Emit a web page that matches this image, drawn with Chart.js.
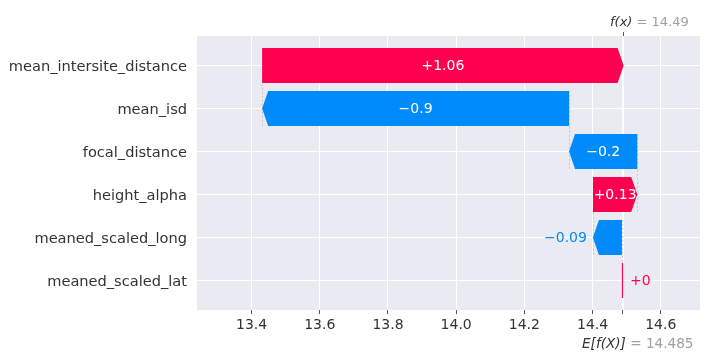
<!DOCTYPE html>
<html>
<head>
<meta charset="utf-8">
<script src="https://cdn.jsdelivr.net/npm/chart.js@4"></script>
<style>
  html, body { margin: 0; padding: 0; background: #fff; }
  #wrap { width: 717px; height: 363px; position: relative; }
</style>
</head>
<body>
<div id="wrap"><canvas id="chart"></canvas></div>
<script>
// DATA
const features = [
  "mean_intersite_distance",
  "mean_isd",
  "focal_distance",
  "height_alpha",
  "meaned_scaled_long",
  "meaned_scaled_lat",
];
const shapValues = [1.06, -0.9, -0.2, 0.13, -0.085, 0.001];
const valueLabels = ["+1.06", "\u22120.9", "\u22120.2", "+0.13", "\u22120.09", "+0"];
const baseValue = 14.485;
const fxValue = 14.49;
const xTicks = [13.4, 13.6, 13.8, 14.0, 14.2, 14.4, 14.6];

const RED = "#ff0051";
const BLUE = "#008bfb";
const FONT = '"DejaVu Sans", sans-serif';

// running sums, starting from the bottom row
const spans = [];
let run = baseValue;
for (let i = features.length - 1; i >= 0; i--) {
  spans[i] = [run, run + shapValues[i]];
  run += shapValues[i];
}

// background + connector lines + base lines
const waterfall = {
  id: "waterfall",
  beforeDraw(chart) {
    const { ctx, chartArea: a } = chart;
    ctx.save();
    ctx.fillStyle = "#eaeaf2";
    ctx.fillRect(a.left, a.top, a.right - a.left, a.bottom - a.top);
    ctx.restore();
  },
  beforeDatasetsDraw(chart) {
    const { ctx, chartArea: a } = chart;
    const xs = chart.scales.x, ys = chart.scales.y;
    ctx.save();
    // white lines for E[f(X)] and f(x)
    ctx.strokeStyle = "#ffffff";
    ctx.lineWidth = 1;
    [baseValue, fxValue].forEach(v => {
      const px = Math.round(xs.getPixelForValue(v)) + 0.5;
      ctx.beginPath();
      ctx.moveTo(px, a.top);
      ctx.lineTo(px, a.bottom);
      ctx.stroke();
    });
    // extra tick marks
    ctx.strokeStyle = "#555";
    let px = Math.round(xs.getPixelForValue(baseValue)) + 0.5;
    ctx.beginPath(); ctx.moveTo(px, a.bottom); ctx.lineTo(px, a.bottom + 4); ctx.stroke();
    px = Math.round(xs.getPixelForValue(fxValue)) + 0.5;
    ctx.beginPath(); ctx.moveTo(px, a.top); ctx.lineTo(px, a.top - 4); ctx.stroke();
    // dashed connectors between rows
    ctx.strokeStyle = "#c4c4c4";
    ctx.setLineDash([2, 2]);
    for (let r = features.length - 1; r > 0; r--) {
      const x = Math.round(xs.getPixelForValue(spans[r][1])) + 0.5;
      ctx.beginPath();
      ctx.moveTo(x, ys.getPixelForValue(r + 0.4));
      ctx.lineTo(x, ys.getPixelForValue(r - 1 - 0.4));
      ctx.stroke();
    }
    ctx.restore();
  },
  afterDatasetsDraw(chart) {
    const { ctx } = chart;
    const xs = chart.scales.x;
    const meta = chart.getDatasetMeta(0);
    ctx.save();
    ctx.font = "14px " + FONT;
    ctx.textBaseline = "middle";
    meta.data.forEach((bar, i) => {
      const x0 = xs.getPixelForValue(spans[i][0]);
      const x1 = xs.getPixelForValue(spans[i][1]);
      const top = bar.y - bar.height / 2, bot = bar.y + bar.height / 2;
      const dir = shapValues[i] >= 0 ? 1 : -1;
      const w = Math.abs(x1 - x0);
      const col = shapValues[i] >= 0 ? RED : BLUE;
      if (w < 1.5) {
        ctx.strokeStyle = col;
        ctx.lineWidth = 1.2;
        const px = Math.round(x1) + 0.5;
        ctx.beginPath(); ctx.moveTo(px, top); ctx.lineTo(px, bot); ctx.stroke();
      } else {
        const head = Math.min(6, w);
        ctx.fillStyle = col;
        ctx.beginPath();
        ctx.moveTo(x0, top);
        ctx.lineTo(x1 - dir * head, top);
        ctx.lineTo(x1, bar.y);
        ctx.lineTo(x1 - dir * head, bot);
        ctx.lineTo(x0, bot);
        ctx.closePath();
        ctx.fill();
      }
      const tw = ctx.measureText(valueLabels[i]).width;
      if (tw < w) {
        ctx.fillStyle = "#ffffff";
        ctx.textAlign = "center";
        ctx.fillText(valueLabels[i], (x0 + x1) / 2, bar.y + 1);
      } else if (dir > 0) {
        ctx.fillStyle = col;
        ctx.textAlign = "left";
        ctx.fillText(valueLabels[i], Math.max(x0, x1) + 8, bar.y + 1);
      } else {
        ctx.fillStyle = col;
        ctx.textAlign = "right";
        ctx.fillText(valueLabels[i], Math.min(x0, x1) - 6, bar.y + 1);
      }
    });
    ctx.restore();
  },
  afterDraw(chart) {
    const { ctx } = chart;
    ctx.save();
    ctx.textBaseline = "alphabetic";
    ctx.textAlign = "left";
    // f(x) label on top
    let x = 610;
    ctx.font = "italic 13px " + FONT;
    ctx.fillStyle = "#333";
    ctx.fillText("f(x)", x, 26);
    x += ctx.measureText("f(x)").width;
    ctx.font = "13px " + FONT;
    ctx.fillStyle = "#a0a0a0";
    ctx.fillText(" = " + fxValue.toFixed(2), x, 26);
    // E[f(X)] label at the bottom
    x = 582;
    ctx.font = "italic 13.6px " + FONT;
    ctx.fillStyle = "#333";
    ctx.fillText("E[f(X)]", x, 348);
    x += ctx.measureText("E[f(X)]").width;
    ctx.font = "13.6px " + FONT;
    ctx.fillStyle = "#a0a0a0";
    ctx.fillText(" = " + baseValue.toFixed(3), x, 348);
    ctx.restore();
  },
};

const ctx = document.getElementById("chart");

new Chart(ctx, {
  type: "bar",
  data: {
    datasets: [
      {
        data: features.map((f, i) => ({ x: spans[i], y: i })),
        backgroundColor: "rgba(0,0,0,0)",
        borderWidth: 0,
        barPercentage: 0.815,
        categoryPercentage: 1,
      },
    ],
  },
  options: {
    indexAxis: "y",
    responsive: true,
    maintainAspectRatio: false,
    animation: false,
    devicePixelRatio: 1,
    layout: { padding: { top: 36, right: 17, bottom: 0, left: 0 } },
    plugins: { legend: { display: false }, tooltip: { enabled: false } },
    scales: {
      x: {
        type: "linear",
        min: 13.24,
        max: 14.715,
        afterBuildTicks: (axis) => { axis.ticks = xTicks.map(v => ({ value: v })); },
        afterFit: (axis) => { axis.height = 53; },
        border: { display: false },
        grid: { color: "#ffffff", lineWidth: 1, tickColor: "#555", tickLength: 4 },
        ticks: {
          color: "#333",
          font: { family: FONT, size: 14 },
          padding: 3,
          callback: (v) => v.toFixed(1),
        },
      },
      y: {
        type: "linear",
        reverse: true,
        offset: false,
        min: -0.686,
        max: 5.686,
        afterBuildTicks: (axis) => { axis.ticks = features.map((f, i) => ({ value: i })); },
        afterFit: (axis) => { axis.width = 197; },
        border: { display: false },
        grid: { color: "#ffffff", lineWidth: 1, drawTicks: false, offset: false },
        ticks: {
          color: "#333",
          font: { family: FONT, size: 14.6 },
          padding: 10,
          labelOffset: 2,
          callback: (v) => features[v],
        },
      },
    },
  },
  plugins: [waterfall],
});
</script>
</body>
</html>
